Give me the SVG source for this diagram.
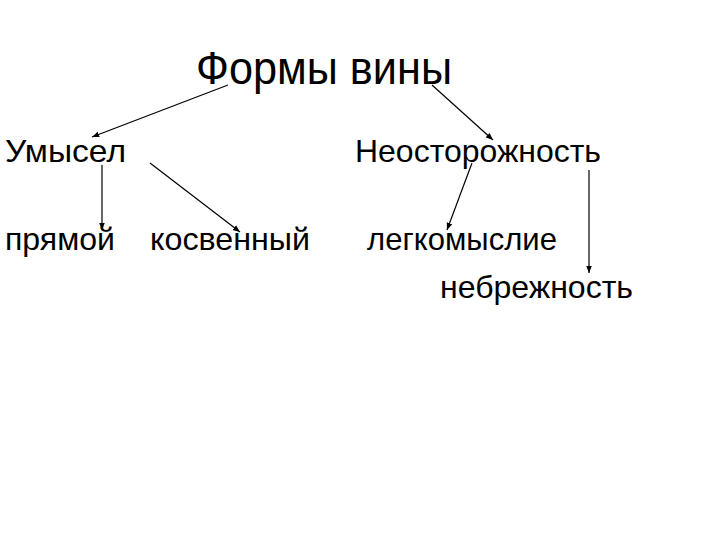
<svg xmlns="http://www.w3.org/2000/svg" width="720" height="540" viewBox="0 0 720 540">
<style>
text{font-family:"Liberation Sans",Arial,sans-serif;fill:#000}
.t{font-size:32px}
line{stroke:#000;stroke-width:1.2;marker-end:url(#a)}
</style>
<defs><marker id="a" viewBox="0 0 10 10" refX="10" refY="5" markerWidth="6" markerHeight="6" orient="auto"><path d="M0,1 L10,5 L0,9 z" fill="#000"/></marker></defs>
<rect width="720" height="540" fill="#fff"/>
<g id="title"><text x="196" y="84" font-size="46" textLength="256" lengthAdjust="spacingAndGlyphs">Формы вины</text></g>
<g id="umysel"><text class="t" x="5" y="162" textLength="121" lengthAdjust="spacingAndGlyphs">Умысел</text></g>
<g id="neost"><text class="t" x="355" y="162" textLength="246" lengthAdjust="spacingAndGlyphs">Неосторожность</text></g>
<g id="pryamoy"><text class="t" x="5" y="250" textLength="110" lengthAdjust="spacingAndGlyphs">прямой</text></g>
<g id="kosv"><text class="t" x="150" y="250" textLength="160" lengthAdjust="spacingAndGlyphs">косвенный</text></g>
<g id="legk"><text class="t" x="367" y="250" textLength="190" lengthAdjust="spacingAndGlyphs">легкомыслие</text></g>
<g id="nebr"><text class="t" x="440" y="298" textLength="193" lengthAdjust="spacingAndGlyphs">небрежность</text></g>
<g id="connectors">
<line x1="228" y1="85" x2="92" y2="137"/>
<line x1="432" y1="85" x2="493" y2="140"/>
<line x1="102" y1="165" x2="102" y2="230"/>
<line x1="150" y1="163" x2="240" y2="232"/>
<line x1="472" y1="163" x2="447" y2="230"/>
<line x1="589" y1="170" x2="589" y2="273"/>
</g>
</svg>
